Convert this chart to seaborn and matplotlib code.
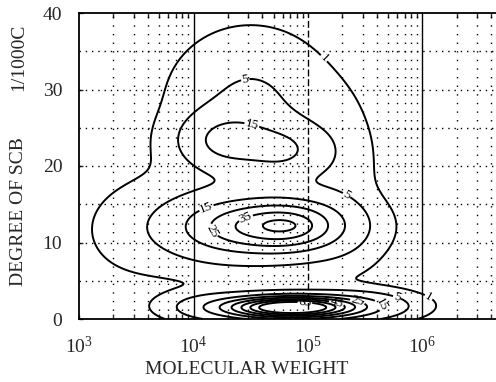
import numpy as np
import matplotlib
matplotlib.use("Agg")
import matplotlib.pyplot as plt
import seaborn as sns

# Contour levels of the MW x SCB distribution
levels = [1, 5, 15, 25, 35, 45, 55, 65]

# Peak components of the distribution: position in log10(M) and SCB (/1000C),
# widths along both axes and peak heights
comp_logm = [4.85, 5.45, 4.15, 4.85, 4.30, 4.77, 4.30, 4.50, 4.30, 4.80, 3.45, 5.35, 5.30]
comp_scb = [1.5, 1.8, 1.6, 12.2, 12.0, 12.2, 13.0, 28.0, 23.3, 22.0, 11.0, 8.0, 20.0]
comp_wlogm = [0.36, 0.30, 0.25, 0.33, 0.35, 0.10, 0.60, 0.40, 0.25, 0.24, 0.30, 0.25, 0.20]
comp_wscb = [0.95, 1.2, 1.2, 2.3, 2.5, 0.5, 5.0, 5.5, 2.3, 2.3, 4.0, 3.0, 6.0]
comp_height = [85, 10, 6, 36, 20, 5, 3, 6.0, 16, 13, 1.0, 0.8, 2.0]

# Where each contour value is written (log10 M, SCB)
label_pos = {
    1: [(5.10, 33.5), (6.09, 3.8)],
    5: [(4.45, 31.5), (5.38, 17.3), (5.80, 3.8)],
    15: [(4.52, 26.0), (4.08, 15.8), (5.66, 2.2)],
    25: [(4.17, 11.6), (5.43, 2.2)],
    35: [(4.48, 12.3)],
    45: [(5.25, 2.2)],
    65: [(4.97, 1.8)],
}

x_ticks = [1e3, 1e4, 1e5, 1e6]
x_ticklabels = [r"$10^{3}$", r"$10^{4}$", r"$10^{5}$", r"$10^{6}$"]
y_ticks = [0, 10, 20, 30, 40]

sns.set_style("ticks")
plt.rcParams["font.family"] = ["Liberation Serif", "DejaVu Serif"]
plt.rcParams["mathtext.fontset"] = "custom"
plt.rcParams["mathtext.rm"] = "Liberation Serif"
plt.rcParams["mathtext.it"] = "Liberation Serif:italic"

fig = plt.figure(figsize=(4.96, 3.82), dpi=100)
ax = fig.add_axes([79 / 496, 63 / 382, 458 / 496, 306 / 382])

u = np.linspace(3.0, 7.0, 500)
v = np.linspace(0.0, 40.0, 500)
U, V = np.meshgrid(u, v)
Z = np.zeros_like(U)
for cu, cv, su, sv, a in zip(comp_logm, comp_scb, comp_wlogm, comp_wscb, comp_height):
    Z += a * np.exp(-0.5 * (((U - cu) / su) ** 2 + ((V - cv) / sv) ** 2))

ax.set_xscale("log")
ax.set_xlim(1e3, 1e7)
ax.set_ylim(0, 40)

# dotted reference grid
for k in range(3, 7):
    for m in range(2, 10):
        ax.axvline(m * 10.0 ** k, color="black", lw=1.0, ls=(0, (1, 5.2)), zorder=1)
for y in range(5, 40, 5):
    ax.axhline(y, color="black", lw=1.0, ls=(0, (1, 3.5)), zorder=1)
ax.axvline(1e4, color="black", lw=1.0, zorder=1)
ax.axvline(1e5, color="black", lw=1.0, ls=(0, (5, 2)), zorder=1)
ax.axvline(1e6, color="black", lw=1.0, zorder=1)

for lev in levels:
    cs = ax.contour(10 ** U, V, Z, levels=[lev], colors="black", linewidths=1.4, zorder=3)
    pts = label_pos.get(lev)
    if pts:
        ax.clabel(cs, manual=[(10 ** a, b) for a, b in pts],
                  fmt="%d", fontsize=9.5, inline=True, inline_spacing=1)

ax.set_xticks(x_ticks)
ax.set_xticklabels(x_ticklabels)
ax.set_yticks(y_ticks)
ax.tick_params(axis="both", which="major", direction="in", length=3, labelsize=14, width=1)
ax.tick_params(axis="x", which="major", pad=12)
ax.tick_params(axis="y", which="major", pad=12)
ax.tick_params(axis="x", which="minor", direction="in", length=3.5, width=1,
               top=True, bottom=True)
for s in ax.spines.values():
    s.set_linewidth(1.3)
    s.set_color("black")

fig.text(247 / 496, 1 - 370 / 382, "MOLECULAR WEIGHT", ha="center", va="center", fontsize=14)
fig.text(19 / 496, 1 - 212 / 382, "DEGREE OF SCB", ha="center", va="center",
         rotation=90, fontsize=14)
fig.text(19 / 496, 1 - 57 / 382, "1/1000C", ha="center", va="center",
         rotation=90, fontsize=14)

fig.savefig("out.png", dpi=100)
